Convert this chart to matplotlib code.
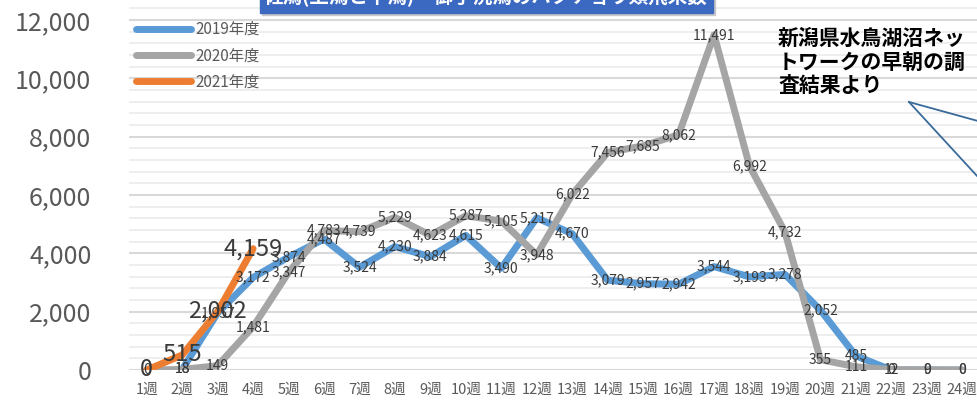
import numpy as np
import matplotlib.pyplot as plt
from matplotlib.ticker import MultipleLocator, FuncFormatter
from matplotlib.patches import Rectangle

plt.rcParams['font.family'] = ['Noto Sans CJK JP', 'DejaVu Sans']

# 週ごとのハクチョウ類の数
weeks = [f'{i}週' for i in range(1, 25)]
nan = np.nan
y2019 = [nan, 18, 1957, 3172, 3874, 4487, 3524, 4230, 3884, 4615, 3490, 5217,
         4670, 3079, 2957, 2942, 3544, 3193, 3278, 2052, 485, 0, 0, 0]
y2020 = [0, 18, 149, 1481, 3347, 4783, 4739, 5229, 4623, 5287, 5105, 3948,
         6022, 7456, 7685, 8062, 11491, 6992, 4732, 355, 111, 12, 9, 0]
y2021 = [0, 515, 2002, 4159]

title = '佐潟(上潟と下潟)・御手洗潟のハクチョウ類飛来数'
note = '新潟県水鳥湖沼ネッ\nトワークの早朝の調\n査結果より'

fig = plt.figure(figsize=(9.78, 4.01), dpi=100)
ax = fig.add_axes([129 / 978, 31 / 401, 851 / 978, 370 / 401])

x = np.arange(1, 25)
ax.plot(x, y2019, color='#5B9BD5', lw=5, label='2019年度', zorder=2, solid_capstyle='round')
ax.plot(x, y2020, color='#A5A5A5', lw=5, label='2020年度', zorder=3, solid_capstyle='round')
ax.plot(x[:len(y2021)], y2021, color='#ED7D31', lw=5, label='2021年度', zorder=4,
        solid_capstyle='round')

# データラベル(点の中央に表示)
for xs, ys in [(x, y2019), (x, y2020)]:
    for xi, yi in zip(xs, ys):
        if not np.isnan(yi):
            ax.text(xi, yi, f'{int(yi):,}', ha='center', va='center',
                    fontsize=10, color='#3A3A3A', zorder=6)
for xi, yi in zip(x, y2021):
    ax.text(xi, yi, f'{int(yi):,}', ha='center', va='center',
            fontsize=17, color='#3A3A3A', zorder=7)

ax.set_xlim(0.5, 24.5)
ax.set_ylim(0, 12685)
ax.set_xticks(x)
ax.set_xticklabels(weeks)
ax.yaxis.set_major_locator(MultipleLocator(2000))
ax.yaxis.set_minor_locator(MultipleLocator(400))
ax.yaxis.set_major_formatter(FuncFormatter(lambda v, p: f'{int(v):,}'))
ax.tick_params(axis='y', which='both', length=0, labelsize=18, colors='#595959', pad=27)
ax.tick_params(axis='x', length=0, labelsize=10.5, colors='#595959', pad=9)
ax.grid(axis='y', which='major', color='#D9D9D9', lw=1.5)
ax.grid(axis='y', which='minor', color='#EDEDED', lw=1.3)
ax.set_axisbelow(True)
for s in ax.spines.values():
    s.set_visible(False)

leg = ax.legend(loc='upper left', bbox_to_anchor=(-0.002, 0.968), frameon=False,
                fontsize=11, labelcolor='#595959', handlelength=3.6,
                labelspacing=0.6, handletextpad=0.25, borderaxespad=0.2)

# タイトル(上部で切れている)
fig.patches.append(Rectangle((262 / 978, 1 - 15 / 401), 453 / 978, 0.1,
                             transform=fig.transFigure, color='#C8C8C8', zorder=9))
fig.patches.append(Rectangle((260 / 978, 1 - 13 / 401), 453 / 978, 0.1,
                             transform=fig.transFigure, color='#3B68C0', zorder=10))
fig.text(486 / 978, 1 - 2 / 401, title, ha='center', va='baseline', fontsize=14,
         fontweight='bold', color='white', zorder=11)

fig.text(778 / 978, 1 - 28 / 401, note, ha='left', va='top', fontsize=15,
         fontweight='bold', color='black', linespacing=1.15, zorder=11)

# 吹き出しの線
fig.add_artist(plt.Line2D([909 / 978, 978 / 978], [1 - 102 / 401, 1 - 121 / 401],
                          color='#3A6A9A', lw=1.3, transform=fig.transFigure))
fig.add_artist(plt.Line2D([909 / 978, 978 / 978], [1 - 102 / 401, 1 - 177 / 401],
                          color='#3A6A9A', lw=1.3, transform=fig.transFigure))

fig.savefig('out.png', dpi=100)
